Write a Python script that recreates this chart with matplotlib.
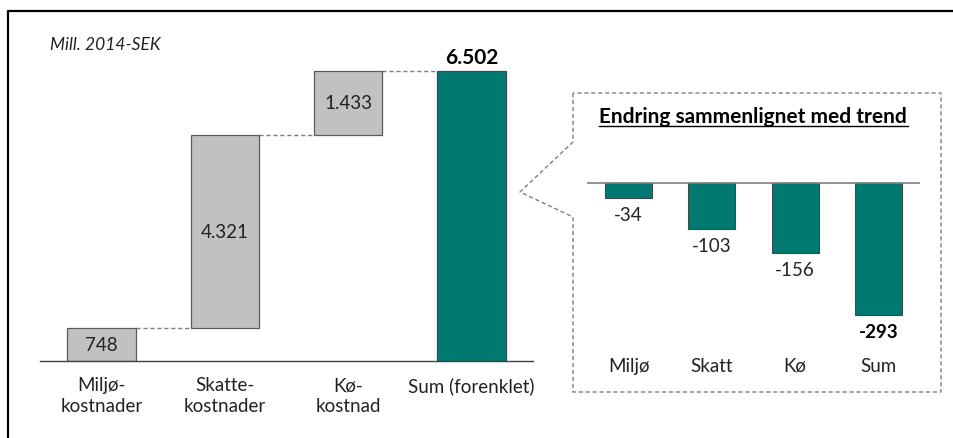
import matplotlib
matplotlib.use("Agg")
import matplotlib.pyplot as plt
from matplotlib.lines import Line2D

plt.rcParams["font.family"] = ["Lato", "DejaVu Sans"]

# waterfall data (mill. 2014-SEK)
cost_labels = ["Miljø-\nkostnader", "Skatte-\nkostnader", "Kø-\nkostnad", "Sum (forenklet)"]
cost_values = [748, 4321, 1433]
cost_total = 6502
value_texts = ["748", "4.321", "1.433"]
total_text = "6.502"

# change vs trend
trend_labels = ["Miljø", "Skatt", "Kø", "Sum"]
trend_values = [-34, -103, -156, -293]

TEAL = "#007A70"
GREY = "#C0C1C0"
W, H = 954, 439
FS = 13.5


def fx(px):
    return px / W


def fy(py):
    return 1 - py / H


def box(left, top, right, bottom):
    return [fx(left), fy(bottom), fx(right) - fx(left), fy(top) - fy(bottom)]


fig = plt.figure(figsize=(W / 100, H / 100), dpi=100)

# outer frame (top + left visible)
fig.add_artist(Line2D([fx(8), fx(8), fx(954)], [fy(439), fy(12), fy(12)],
                      transform=fig.transFigure, color="black", lw=1.6))

# ---- main waterfall ----
ax = fig.add_axes(box(40, 30, 533, 362))
scale = 290 / cost_total  # px per unit
ax.set_ylim(0, (362 - 30) / scale)
ax.set_xlim(-0.5, 3.5)
bw = 0.555

bottoms = []
run = 0
for v in cost_values:
    bottoms.append(run)
    run += v
for i, v in enumerate(cost_values):
    ax.bar(i, v, bw, bottom=bottoms[i], color=GREY, edgecolor="#5A5A5A", lw=0.9, zorder=2)
    ax.text(i, bottoms[i] + v / 2, value_texts[i], ha="center", va="center", fontsize=FS, color="#222222")
ax.bar(3, cost_total, bw, color=TEAL, edgecolor="#3C4A48", lw=0.9, zorder=2)
ax.annotate(total_text, (3, cost_total), xytext=(0, 4), textcoords="offset pixels",
            ha="center", va="bottom", fontsize=15, fontweight="bold", color="black")

# connectors
levels = [bottoms[i] + cost_values[i] for i in range(3)]
for i, lvl in enumerate(levels):
    ax.plot([i + bw / 2, i + 1 - bw / 2], [lvl, lvl], color="#7F7F7F", lw=1, ls=(0, (3, 2)), zorder=1)

for s in ["top", "right", "left"]:
    ax.spines[s].set_visible(False)
ax.spines["bottom"].set_color("#404040")
ax.spines["bottom"].set_linewidth(1)
ax.set_yticks([])
ax.set_xticks(range(4))
ax.set_xticklabels(cost_labels, fontsize=FS, color="#222222", linespacing=1.25)
ax.tick_params(axis="x", length=0, pad=11)

fig.text(fx(50), fy(45), "Mill. 2014-SEK", fontsize=12.5, style="italic", va="center", ha="left", color="#222222")

# ---- inset with callout ----
callout_x = [573, 573, 520, 573, 573, 941, 941, 573]
callout_y = [94, 143, 193, 218, 393, 393, 94, 94]
fig.add_artist(Line2D([fx(x) for x in callout_x], [fy(y) for y in callout_y],
                      transform=fig.transFigure, color="#7F7F7F", lw=1, ls=(0, (3, 2))))

fig.text(fx(753), fy(117), "Endring sammenlignet med trend", fontsize=15, fontweight="bold",
         ha="center", va="center", color="black")
fig.add_artist(Line2D([fx(599), fx(908)], [fy(127), fy(127)], transform=fig.transFigure,
                      color="black", lw=1))

ax2 = fig.add_axes(box(587, 150, 920, 352))
k = 132 / 293
ax2.set_ylim(-(352 - 184) / k, (184 - 150) / k)
ax2.set_xlim(-0.5, 3.5)
xs = range(len(trend_values))
ax2.bar(xs, trend_values, 0.565, color=TEAL, edgecolor="#3C4A48", lw=0.8, zorder=2)
ax2.axhline(0, color="#7F7F7F", lw=1.2, zorder=3)
for i, v in enumerate(trend_values):
    bold = i == len(trend_values) - 1
    ax2.annotate(str(v), (i, v), xytext=(0, -8), textcoords="offset pixels",
                 ha="center", va="top", fontsize=FS,
                 fontweight="bold" if bold else "normal", color="black" if bold else "#222222")
for s in ax2.spines.values():
    s.set_visible(False)
ax2.set_yticks([])
ax2.set_xticks(list(xs))
ax2.set_xticklabels(trend_labels, fontsize=FS, color="#222222")
ax2.tick_params(axis="x", length=0, pad=4)

fig.savefig("out.png", dpi=100, facecolor="white")
